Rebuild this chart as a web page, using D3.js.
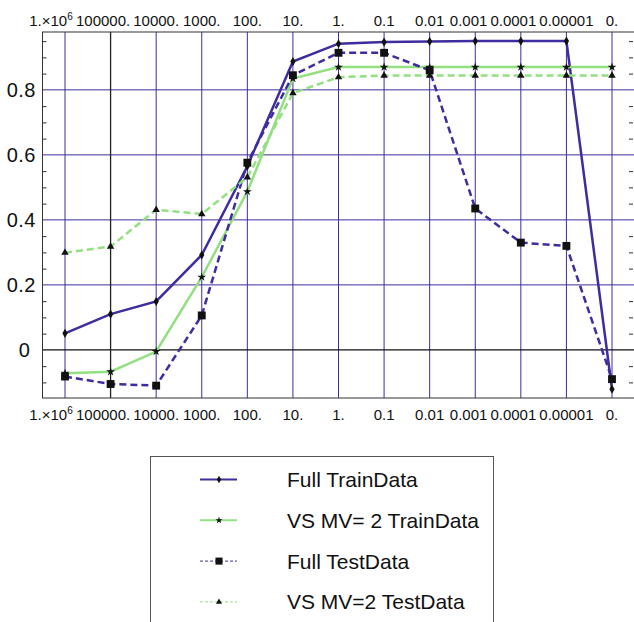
<!DOCTYPE html>
<html>
<head>
<meta charset="utf-8">
<script src="https://cdn.jsdelivr.net/npm/d3@7"></script>
<style>
  body { margin: 0; background: #fff; }
  text { font-family: "Liberation Sans", Arial, sans-serif; fill: #111; }
</style>
</head>
<body>
<div id="chart"></div>
<script>
// regularisation values shown on the x axis (top and bottom)
const xLabels = ['1e6', '1e5', '1e4', '1000', '100', '10', '1', '0.1', '0.01', '0.001', '0.0001', '0.00001', '0'];
const xTickText = ['1.\u00d710', '100000.', '10000.', '1000.', '100.', '10.', '1.', '0.1', '0.01', '0.001', '0.0001', '0.00001', '0.'];

const fullTrain = [0.051, 0.110, 0.149, 0.292, 0.565, 0.887, 0.942, 0.947, 0.949, 0.950, 0.950, 0.950, -0.121];
const vsTrain   = [-0.072, -0.067, -0.005, 0.224, 0.487, 0.835, 0.870, 0.870, 0.870, 0.870, 0.870, 0.870, 0.870];
const fullTest  = [-0.082, -0.105, -0.110, 0.106, 0.576, 0.845, 0.914, 0.914, 0.860, 0.435, 0.330, 0.320, -0.090];
const vsTest    = [0.299, 0.318, 0.431, 0.418, 0.531, 0.790, 0.839, 0.844, 0.844, 0.844, 0.844, 0.844, 0.844];

const yMajor = [0, 0.2, 0.4, 0.6, 0.8];
const yMinor = [-0.1, -0.05, 0.05, 0.1, 0.15, 0.25, 0.3, 0.35, 0.45, 0.5, 0.55, 0.65, 0.7, 0.75, 0.85, 0.9, 0.95];

const indigo = '#3f2c9e';
const green = '#92e080';

const series = [
    { name: 'Full TrainData', values: fullTrain, color: indigo, dash: null, symbol: d3.symbolDiamond, size: 24 },
    { name: 'VS MV= 2 TrainData', values: vsTrain, color: green, dash: null, symbol: d3.symbolStar, size: 24 },
    { name: 'Full TestData', values: fullTest, color: indigo, dash: '7,4', symbol: d3.symbolSquare, size: 62 },
    { name: 'VS MV=2 TestData', values: vsTest, color: green, dash: '7,4', symbol: d3.symbolTriangle, size: 24 }
];

const width = 634, height = 622;
const frame = { left: 42.5, top: 32, right: 634.5, bottom: 398 };

const svg = d3.select('#chart').append('svg')
    .attr('width', width)
    .attr('height', height);

const x = d3.scalePoint()
    .domain(xLabels)
    .range([65, 612]);

const y = d3.scaleLinear()
    .domain([-0.148, 0.978])
    .range([frame.bottom, frame.top]);

// grid lines
svg.append('g')
    .selectAll('line')
    .data(yMajor.filter(d => d !== 0))
    .enter().append('line')
    .attr('x1', frame.left).attr('x2', frame.right)
    .attr('y1', d => y(d)).attr('y2', d => y(d))
    .attr('stroke', '#3b2f9d')
    .attr('stroke-width', 1);

svg.append('g')
    .selectAll('line')
    .data(xLabels.filter(d => d !== '1e5'))
    .enter().append('line')
    .attr('x1', d => x(d)).attr('x2', d => x(d))
    .attr('y1', frame.top).attr('y2', frame.bottom)
    .attr('stroke', '#3b2f9d')
    .attr('stroke-width', 1);

// axes through the origin
svg.append('line')
    .attr('x1', frame.left).attr('x2', frame.right)
    .attr('y1', y(0)).attr('y2', y(0))
    .attr('stroke', '#111').attr('stroke-width', 1.2);
svg.append('line')
    .attr('x1', x('1e5')).attr('x2', x('1e5'))
    .attr('y1', frame.top).attr('y2', frame.bottom)
    .attr('stroke', '#222').attr('stroke-width', 1.3);

// frame
svg.append('rect')
    .attr('x', frame.left).attr('y', frame.top)
    .attr('width', frame.right - frame.left)
    .attr('height', frame.bottom - frame.top)
    .attr('fill', 'none')
    .attr('stroke', '#333')
    .attr('stroke-width', 1);

// minor ticks left and right, pointing inward
svg.append('g')
    .attr('transform', `translate(${frame.left},0)`)
    .call(d3.axisLeft(y).tickValues(yMinor).tickSize(-4).tickFormat(''))
    .call(g => g.select('.domain').remove())
    .selectAll('line').attr('stroke', '#333');
svg.append('g')
    .attr('transform', `translate(${frame.right - 1.5},0)`)
    .call(d3.axisRight(y).tickValues(yMinor).tickSize(-4).tickFormat(''))
    .call(g => g.select('.domain').remove())
    .selectAll('line').attr('stroke', '#333');

// y labels, aligned on the decimal point
svg.append('g')
    .selectAll('text')
    .data(yMajor)
    .enter().append('text')
    .attr('x', 36)
    .attr('y', d => y(d))
    .attr('dy', '0.36em')
    .attr('dx', d => d === 0 ? '-0.28em' : 0)
    .attr('text-anchor', 'end')
    .style('font-size', '20px')
    .style('letter-spacing', '0.5px')
    .text(d => d === 0 ? '0' : d3.format('.1f')(d));

// x labels on top and bottom, nudged left where they would collide
function xTickLabels(baseline) {
    const g = svg.append('g');
    const labels = g.selectAll('text')
        .data(xLabels)
        .enter().append('text')
        .attr('y', baseline)
        .attr('text-anchor', 'middle')
        .style('font-size', '15px');
    labels.each(function (d, i) {
        const t = d3.select(this);
        t.append('tspan').text(xTickText[i]);
        if (i === 0) {
            t.append('tspan')
                .attr('dy', -6)
                .style('font-size', '10px')
                .text('6');
        }
    });
    const nodes = labels.nodes();
    const w = nodes.map(n => n.getBBox().width);
    const cx = xLabels.map(d => x(d));
    for (let i = nodes.length - 2; i >= 0; i--) {
        const nextLeft = cx[i + 1] - w[i + 1] / 2;
        if (cx[i] + w[i] / 2 > nextLeft - 3) cx[i] = nextLeft - 3 - w[i] / 2;
    }
    labels.attr('x', (d, i) => cx[i]);
}
xTickLabels(26);
xTickLabels(420);

// series
const line = d3.line()
    .x((d, i) => x(xLabels[i]))
    .y(d => y(d));

series.forEach(s => {
    svg.append('path')
        .datum(s.values)
        .attr('d', line)
        .attr('fill', 'none')
        .attr('stroke', s.color)
        .attr('stroke-width', 2.5)
        .attr('stroke-dasharray', s.dash);
});

series.forEach(s => {
    svg.append('g')
        .selectAll('path')
        .data(s.values)
        .enter().append('path')
        .attr('transform', (d, i) => `translate(${x(xLabels[i])},${y(d)})`)
        .attr('d', d3.symbol().type(s.symbol).size(s.size))
        .attr('fill', '#111');
});

// legend
const legend = svg.append('g');
legend.append('rect')
    .attr('x', 150.5).attr('y', 456.5)
    .attr('width', 343).attr('height', 220)
    .attr('fill', '#fff')
    .attr('stroke', '#555')
    .attr('stroke-width', 1);

const rows = legend.selectAll('.row')
    .data(series)
    .enter().append('g')
    .attr('class', 'row')
    .attr('transform', (d, i) => `translate(0,${479.5 + i * 40.8})`);

rows.append('line')
    .attr('x1', 200).attr('x2', 237)
    .attr('stroke', d => d.color)
    .attr('stroke-width', d => d.dash ? 1 : 2)
    .attr('stroke-dasharray', d => d.dash ? '3,2' : null);

rows.append('path')
    .attr('transform', 'translate(219,0)')
    .attr('d', d => d3.symbol().type(d.symbol).size(d.dash && d.symbol === d3.symbolSquare ? 50 : 16)())
    .attr('fill', '#111');

rows.append('text')
    .attr('x', 287)
    .attr('dy', '0.36em')
    .style('font-size', '21px')
    .text(d => d.name);
</script>
</body>
</html>
